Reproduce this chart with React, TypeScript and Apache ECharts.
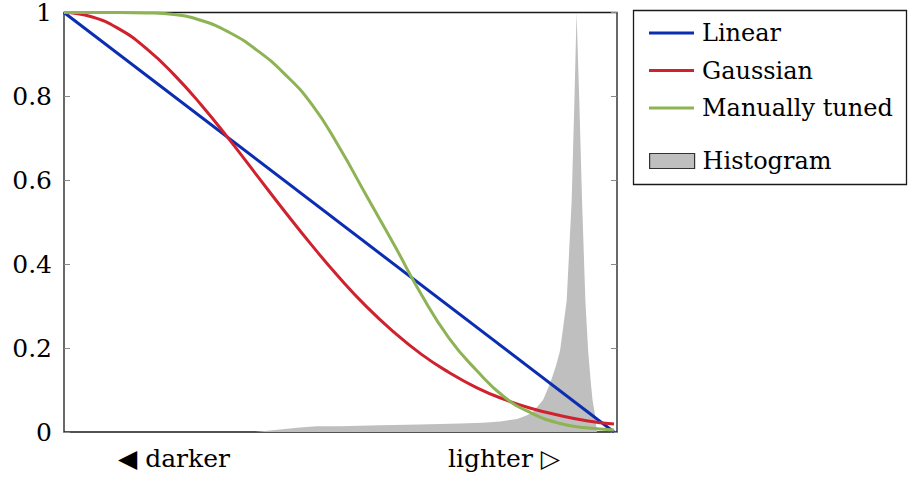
import React, { useEffect, useRef } from "react";
import * as echarts from "echarts";

// Sample positions along the brightness axis (0 = darkest, 1 = lightest)
const sampleX = [0, 0.05, 0.1, 0.15, 0.2, 0.25, 0.3, 0.35, 0.4, 0.45, 0.5, 0.55, 0.6, 0.65, 0.7, 0.75, 0.8, 0.85, 0.9, 0.95, 1];

const linearX = [0, 1];
const linearY = [1, 0];

const gaussianY = [1, 0.99, 0.961, 0.914, 0.852, 0.779, 0.698, 0.613, 0.528, 0.446, 0.369, 0.299, 0.238, 0.185, 0.142, 0.106, 0.078, 0.056, 0.04, 0.027, 0.019];

const tunedY = [1, 1, 1, 0.999, 0.995, 0.981, 0.953, 0.911, 0.855, 0.782, 0.68, 0.563, 0.447, 0.327, 0.224, 0.147, 0.084, 0.045, 0.021, 0.01, 0.005];

const histX = [0, 0.347, 0.356, 0.393, 0.429, 0.46, 0.502, 0.575, 0.647, 0.72, 0.762, 0.793, 0.824, 0.842, 0.853, 0.871, 0.884, 0.895, 0.902, 0.914, 0.923, 0.928, 0.932, 0.937, 0.942, 0.948, 0.953, 0.958, 0.961, 0.965, 0.969, 1];
const histY = [0, 0, 0.001, 0.006, 0.011, 0.014, 0.014, 0.016, 0.018, 0.02, 0.022, 0.025, 0.031, 0.04, 0.048, 0.076, 0.116, 0.16, 0.194, 0.313, 0.55, 0.787, 1.0, 0.787, 0.55, 0.313, 0.194, 0.116, 0.076, 0.045, 0, 0];

const yTicks = [0, 0.2, 0.4, 0.6, 0.8, 1];
const xLabels: Record<string, string> = { "0.2": "◀ darker", "0.8": "lighter ▷" };

const seriesNames = ["Linear", "Gaussian", "Manually tuned", "Histogram"];
const colors = { linear: "#0a2db2", gaussian: "#d0222e", tuned: "#8db355", hist: "#bfbfbf" };

const FONT = "DejaVu Serif";

export default function App() {
  const ref = useRef<HTMLDivElement>(null);
  useEffect(() => {
    document.body.style.margin = "0";
    if (!ref.current) return;
    const chart = echarts.init(ref.current, null, { renderer: "svg" });
    const zip = (xs: number[], ys: number[]) => xs.map((x, i) => [x, ys[i]]);
    const legendText = { fontSize: 24, lineHeight: 30, color: "#000", fontFamily: FONT, padding: [0, 0, 0, 3] };
    chart.setOption({
      animation: false,
      textStyle: { fontFamily: FONT },
      grid: { left: 64, top: 10, right: 291, bottom: 47, show: true, borderColor: "#1a1a1a", borderWidth: 1.3, backgroundColor: "transparent" },
      xAxis: {
        type: "value",
        min: 0,
        max: 1.0055,
        interval: 0.2,
        axisLine: { show: false },
        axisTick: { show: false },
        splitLine: { show: false },
        axisLabel: {
          margin: 14,
          fontSize: 25,
          color: "#000",
          fontFamily: FONT,
          showMaxLabel: false,
          formatter: (v: number) => xLabels[(Math.round(v * 10) / 10).toString()] || "",
        },
      },
      yAxis: [
        {
          type: "value",
          min: 0,
          max: 1,
          interval: 0.2,
          axisLine: { show: false },
          splitLine: { show: false },
          axisTick: { show: true, inside: true, length: 6, lineStyle: { color: "#888", width: 1 } },
          axisLabel: {
            margin: 12,
            fontSize: 25,
            color: "#000",
            fontFamily: FONT,
            formatter: (v: number) => (yTicks.includes(Math.round(v * 10) / 10) ? String(Math.round(v * 10) / 10) : ""),
          },
        },
        {
          type: "value",
          position: "right",
          min: 0,
          max: 1,
          interval: 0.2,
          axisLine: { show: false },
          splitLine: { show: false },
          axisTick: { show: true, inside: true, length: 6, lineStyle: { color: "#888", width: 1 } },
          axisLabel: { show: false },
        },
      ],
      legend: [
        {
          orient: "vertical",
          left: 644,
          top: 13,
          itemWidth: 45,
          itemHeight: 3,
          itemGap: 7.5,
          icon: "rect",
          data: seriesNames.slice(0, 3),
          textStyle: legendText,
        },
        {
          orient: "vertical",
          left: 644,
          top: 141,
          itemWidth: 45,
          itemHeight: 15,
          data: [{ name: "Histogram", icon: "rect", itemStyle: { color: colors.hist, borderColor: "#333", borderWidth: 1.2 } }],
          textStyle: legendText,
        },
      ],
      graphic: [
        {
          type: "rect",
          shape: { x: 633.5, y: 10.5, width: 273, height: 174 },
          style: { fill: "none", stroke: "#1a1a1a", lineWidth: 1.3 },
          silent: true,
        },
      ],
      series: [
        {
          name: "Histogram",
          type: "line",
          data: zip(histX, histY),
          symbol: "none",
          lineStyle: { width: 0, color: colors.hist },
          itemStyle: { color: colors.hist },
          areaStyle: { color: colors.hist, opacity: 1 },
          z: 1,
        },
        {
          name: "Linear",
          type: "line",
          data: zip(linearX, linearY),
          symbol: "none",
          lineStyle: { width: 3, color: colors.linear },
          itemStyle: { color: colors.linear },
          z: 3,
        },
        {
          name: "Gaussian",
          type: "line",
          data: zip(sampleX, gaussianY),
          symbol: "none",
          smooth: 0.5,
          lineStyle: { width: 3, color: colors.gaussian },
          itemStyle: { color: colors.gaussian },
          z: 3,
        },
        {
          name: "Manually tuned",
          type: "line",
          data: zip(sampleX, tunedY),
          symbol: "none",
          smooth: 0.5,
          lineStyle: { width: 3, color: colors.tuned },
          itemStyle: { color: colors.tuned },
          z: 3,
        },
      ],
    });
    return () => chart.dispose();
  }, []);
  return <div ref={ref} style={{ width: 908, height: 479 }} />;
}
